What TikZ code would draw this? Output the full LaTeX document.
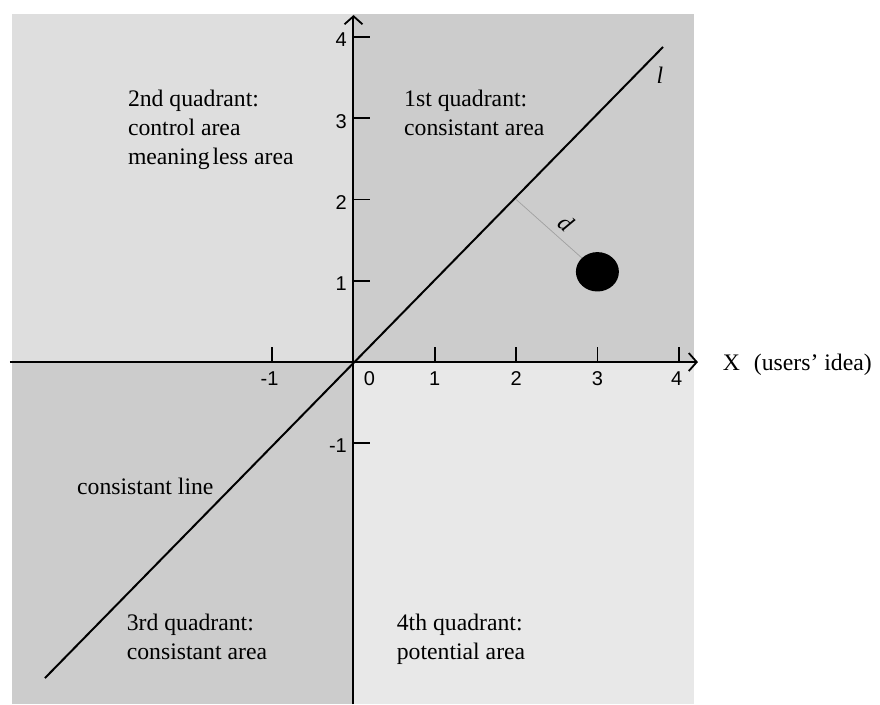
\documentclass[tikz,border=0pt]{standalone}
\usepackage{fontspec}
\setmainfont{Liberation Serif}
\newfontfamily\ticksans{Liberation Sans}
\usetikzlibrary{arrows.meta,shapes.geometric}
\definecolor{qdark}{HTML}{CCCCCC}
\definecolor{qlightA}{HTML}{DEDEDE}
\definecolor{qlightB}{HTML}{E8E8E8}
\definecolor{dgray}{HTML}{A0A0A0}
\begin{document}
\begin{tikzpicture}[x=81.3pt,y=81.3pt,
  axis/.style={line width=2pt,-{Straight Barb[length=8pt,width=18pt,line width=1.8pt]}},
  tickmark/.style={line width=1.8pt},
  ticklab/.style={font=\ticksans\fontsize{20}{24}\selectfont,inner sep=0pt},
  quadlab/.style={font=\fontsize{23.7}{29}\selectfont,align=left,anchor=base west,inner sep=0pt},
  mathlab/.style={font=\fontsize{23.7}{29}\selectfont\itshape,inner sep=0pt},
  dot/.style={ellipse,fill=black,inner sep=0pt,minimum width=43pt,minimum height=39.4pt}
]
\useasboundingbox (-4.348,-4.207) rectangle (6.476,4.453);
% quadrant backgrounds
\fill[qlightA] (-4.2,0) rectangle (0,4.28);
\fill[qdark] (0,0) rectangle (4.188,4.28);
\fill[qdark] (-4.2,-4.207) rectangle (0,0);
\fill[qlightB] (0,-4.207) rectangle (4.188,0);
% coordinates
\coordinate (O) at (0,0);
\coordinate (xl) at (-4.225,0);
\coordinate (xr) at (4.237,0);
\coordinate (yb) at (0,-4.207);
\coordinate (yt) at (0,4.268);
\coordinate (la) at (-3.795,-3.887);
\coordinate (lb) at (3.807,3.875);
\coordinate (foot) at (2,2);
% ticks
\foreach \k in {-1,1,2,3,4} {
  \coordinate (xt\k) at (\k,0);
  \draw[tickmark] (xt\k) -- ++(0,0.18);
}
\foreach \k in {-1,1,2,3,4} {
  \coordinate (yt\k) at (0,\k);
  \draw[tickmark] (yt\k) -- ++(0.205,0);
}
% axes
\draw[axis] (xl) -- (xr);
\draw[axis] (yb) -- (yt);
% tick labels
\node[ticklab] (lxm1) at (-1.033,-0.2) {-1};
\node[ticklab] (lx0) at (0.197,-0.2) {0};
\node[ticklab] (lx1) at (1,-0.2) {1};
\node[ticklab] (lx2) at (2,-0.2) {2};
\node[ticklab] (lx3) at (3,-0.2) {3};
\node[ticklab] (lx4) at (3.975,-0.2) {4};
\node[ticklab,anchor=east] (ly4) at (-0.08,3.96) {4};
\node[ticklab,anchor=east] (ly3) at (-0.08,2.96) {3};
\node[ticklab,anchor=east] (ly2) at (-0.08,1.96) {2};
\node[ticklab,anchor=east] (ly1) at (-0.08,0.96) {1};
\node[ticklab,anchor=east] (lym1) at (-0.08,-1.033) {-1};
% consistent line
\draw[line width=2pt] (la) -- (lb);
% point and distance
\draw[dgray,line width=0.7pt] (foot) -- (3,1.11);
\node[dot] (pt) at (3,1.11) {};
\node[mathlab,rotate=-40] (dlab) at (2.622,1.71) {d};
\node[mathlab] (llab) at (3.77,3.53) {l};
% quadrant labels (anchored at the baseline of their last line)
\node[quadlab] (q2) at (-2.776,2.435) {2nd quadrant:\\control area\\meaning\hspace{3pt}less area};
\node[quadlab] (q1) at (0.621,2.792) {1st quadrant:\\consistant area};
\node[quadlab] (cl) at (-3.401,-1.624) {consistant line};
\node[quadlab] (q3) at (-2.790,-3.653) {3rd quadrant:\\consistant area};
\node[quadlab] (q4) at (0.531,-3.653) {4th quadrant:\\potential area};
\node[quadlab] (xlab) at (4.541,-0.098) {X\hspace{14pt}(users’ idea)};
\end{tikzpicture}
\end{document}
